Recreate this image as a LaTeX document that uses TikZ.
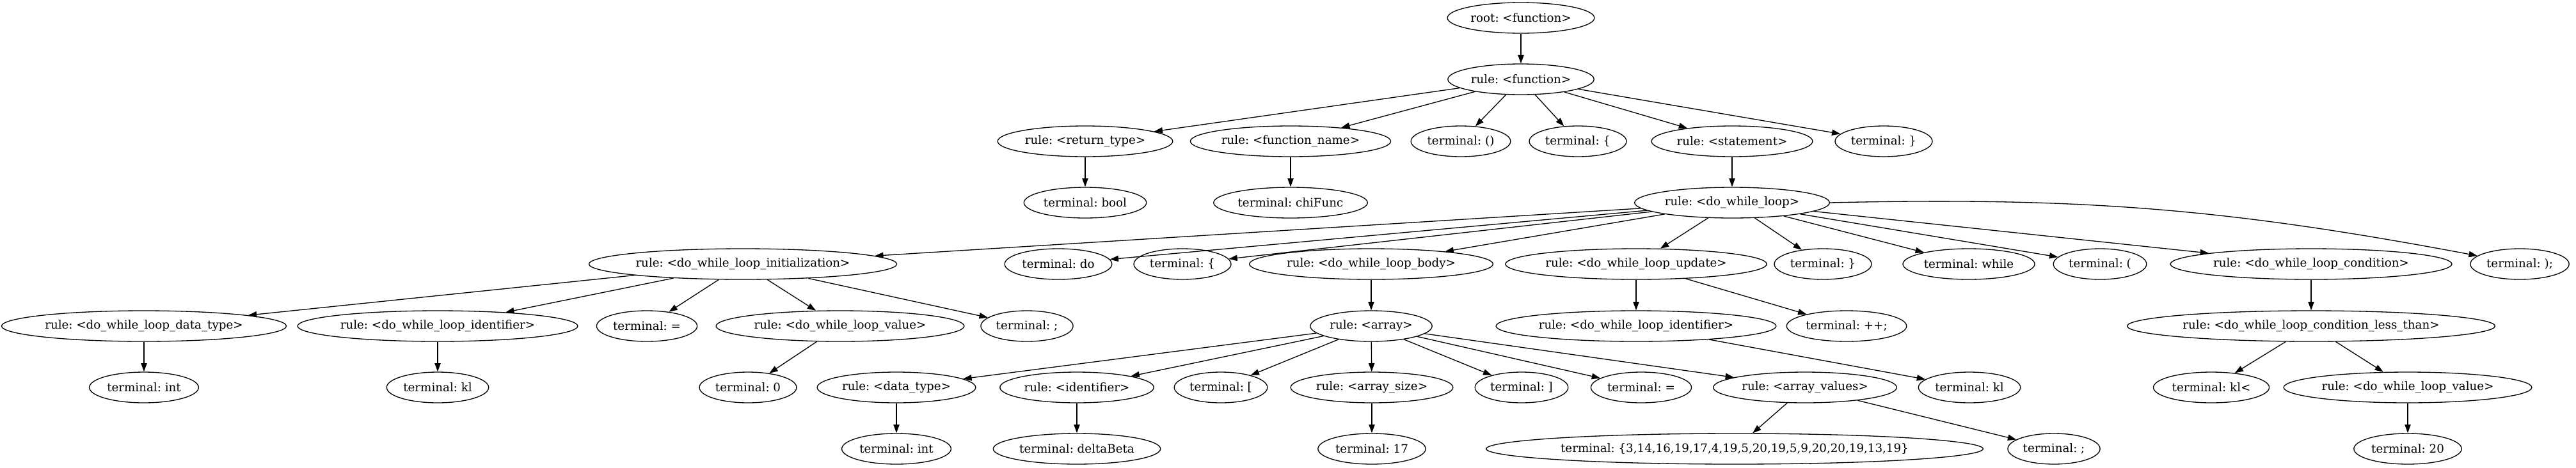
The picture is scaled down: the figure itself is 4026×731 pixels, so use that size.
\documentclass[tikz,border=0pt]{standalone}
\usepackage{fontspec}
\setmainfont{DejaVu Serif}
\usetikzlibrary{shapes.geometric,arrows.meta}

\begin{document}
\frenchspacing
\begin{tikzpicture}[x=0.02cm,y=-0.02cm,>={Triangle[length=7.6pt,width=5.3pt]},
	pnode/.style={draw,ellipse,line width=0.75pt,inner xsep=1.5pt,inner ysep=2pt,minimum height=0.96cm,font=\fontsize{10.4pt}{12pt}\selectfont},
	link/.style={->,line width=0.75pt}]
\useasboundingbox (0,0) rectangle (4026,731);
% rows 0-3
\node (root) at (2377,28) [pnode] {root: <function>};
\node (fn) at (2377,124) [pnode] {rule: <function>};
\node (rettype) at (1696,221) [pnode] {rule: <return\_type>};
\node (fnname) at (2017,221) [pnode] {rule: <function\_name>};
\node (tparen) at (2283,221) [pnode] {terminal: ()};
\node (tlbrace) at (2466,221) [pnode] {terminal: \{};
\node (stmt) at (2707,221) [pnode] {rule: <statement>};
\node (trbrace) at (2944,221) [pnode] {terminal: \}};
\node (tbool) at (1696,317) [pnode] {terminal: bool};
\node (tchifunc) at (2017,317) [pnode] {terminal: chiFunc};
\node (dwl) at (2707,317) [pnode] {rule: <do\_while\_loop>};
% row 4
\node (init) at (1161,413) [pnode] {rule: <do\_while\_loop\_initialization>};
\node (tdo) at (1654,413) [pnode] {terminal: do};
\node (tlbrace2) at (1848,413) [pnode] {terminal: \{};
\node (body) at (2143,413) [pnode] {rule: <do\_while\_loop\_body>};
\node (update) at (2557,413) [pnode] {rule: <do\_while\_loop\_update>};
\node (trbrace2) at (2849,413) [pnode] {terminal: \}};
\node (twhile) at (3077,413) [pnode] {terminal: while};
\node (tlparen) at (3282,413) [pnode] {terminal: (};
\node (cond) at (3612,413) [pnode] {rule: <do\_while\_loop\_condition>};
\node (trparsemi) at (3938,413) [pnode] {terminal: );};
% row 5
\node (dtype) at (225,510) [pnode] {rule: <do\_while\_loop\_data\_type>};
\node (ident) at (684,510) [pnode] {rule: <do\_while\_loop\_identifier>};
\node (teq) at (1011,510) [pnode] {terminal: =};
\node (value) at (1313,510) [pnode] {rule: <do\_while\_loop\_value>};
\node (tsemi) at (1605,510) [pnode] {terminal: ;};
\node (array) at (2143,510) [pnode] {rule: <array>};
\node (ident2) at (2557,510) [pnode] {rule: <do\_while\_loop\_identifier>};
\node (tincr) at (2886,510) [pnode] {terminal: ++;};
\node (less) at (3612,510) [pnode] {rule: <do\_while\_loop\_condition\_less\_than>};
% row 6
\node (tint) at (225,606) [pnode] {terminal: int};
\node (tkl) at (684,606) [pnode] {terminal: kl};
\node (tzero) at (1169,606) [pnode] {terminal: 0};
\node (datatype) at (1401,606) [pnode] {rule: <data\_type>};
\node (identifier) at (1683,606) [pnode] {rule: <identifier>};
\node (tlbrack) at (1908,606) [pnode] {terminal: [};
\node (arrsize) at (2144,606) [pnode] {rule: <array\_size>};
\node (trbrack) at (2378,606) [pnode] {terminal: ]};
\node (teq2) at (2565,606) [pnode] {terminal: =};
\node (arrvals) at (2821,606) [pnode] {rule: <array\_values>};
\node (tkl2) at (3078,606) [pnode] {terminal: kl};
\node (tklless) at (3456,606) [pnode] {terminal: kl<};
\node (value2) at (3763,606) [pnode] {rule: <do\_while\_loop\_value>};
% row 7
\node (tint2) at (1401,702) [pnode] {terminal: int};
\node (tdelta) at (1683,702) [pnode] {terminal: deltaBeta};
\node (t17) at (2144,702) [pnode] {terminal: 17};
\node (tvals) at (2711,702) [pnode] {terminal: \{3,14,16,19,17,4,19,5,20,19,5,9,20,20,19,13,19\}};
\node (tsemi2) at (3210,702) [pnode] {terminal: ;};
\node (t20) at (3763,702) [pnode] {terminal: 20};
% edges
\draw [link] (root) -- (fn);
\draw [link] (fn) -- (rettype);
\draw [link] (fn) -- (fnname);
\draw [link] (fn) -- (tparen);
\draw [link] (fn) -- (tlbrace);
\draw [link] (fn) -- (stmt);
\draw [link] (fn) -- (trbrace);
\draw [link] (rettype) -- (tbool);
\draw [link] (fnname) -- (tchifunc);
\draw [link] (stmt) -- (dwl);
\draw [link] (dwl) -- (init);
\draw [link] (dwl) -- (tdo);
\draw [link] (dwl) -- (tlbrace2);
\draw [link] (dwl) -- (body);
\draw [link] (dwl) -- (update);
\draw [link] (dwl) -- (trbrace2);
\draw [link] (dwl) -- (twhile);
\draw [link] (dwl) -- (tlparen);
\draw [link] (dwl) -- (cond);
\draw [link] (dwl.east) to[bend left=6] (trparsemi);
\draw [link] (init) -- (dtype);
\draw [link] (init) -- (ident);
\draw [link] (init) -- (teq);
\draw [link] (init) -- (value);
\draw [link] (init) -- (tsemi);
\draw [link] (body) -- (array);
\draw [link] (update) -- (ident2);
\draw [link] (update) -- (tincr);
\draw [link] (cond) -- (less);
\draw [link] (dtype) -- (tint);
\draw [link] (ident) -- (tkl);
\draw [link] (value) -- (tzero);
\draw [link] (array) -- (datatype);
\draw [link] (array) -- (identifier);
\draw [link] (array) -- (tlbrack);
\draw [link] (array) -- (arrsize);
\draw [link] (array) -- (trbrack);
\draw [link] (array) -- (teq2);
\draw [link] (array) -- (arrvals);
\draw [link] (ident2) -- (tkl2);
\draw [link] (less) -- (tklless);
\draw [link] (less) -- (value2);
\draw [link] (datatype) -- (tint2);
\draw [link] (identifier) -- (tdelta);
\draw [link] (arrsize) -- (t17);
\draw [link] (arrvals) -- (tvals);
\draw [link] (arrvals) -- (tsemi2);
\draw [link] (value2) -- (t20);
\end{tikzpicture}
\end{document}
